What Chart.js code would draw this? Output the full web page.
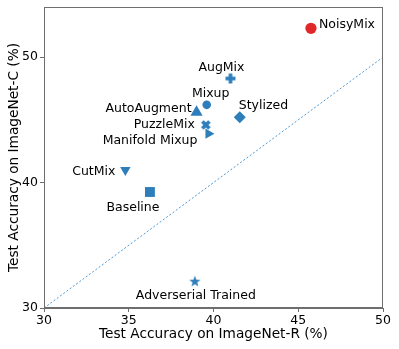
<!DOCTYPE html>
<html>
<head>
<meta charset="utf-8">
<script src="https://cdn.jsdelivr.net/npm/chart.js@4/dist/chart.umd.min.js"></script>
<style>
  html, body { margin: 0; padding: 0; background: #fff; }
  canvas { display: block; }
</style>
</head>
<body>
<canvas id="chart" width="399" height="349"></canvas>
<script>
// data
var methods = ['Baseline', 'AutoAugment', 'AugMix', 'Stylized', 'Mixup',
    'Manifold Mixup', 'CutMix', 'PuzzleMix', 'Adverserial Trained', 'NoisyMix'];
var accR = [36.25, 39.0, 41.0, 41.55, 39.6, 39.7, 34.8, 39.55, 38.9, 45.75];
var accC = [39.25, 45.6, 48.3, 45.2, 46.2, 43.9, 41.0, 44.6, 32.1, 52.3];
var xTicks = [30, 35, 40, 45, 50];
var yTicks = [30, 40, 50];

var BLUE = '#2e7ebc';
var RED = '#e0282a';
var FONT = '"DejaVu Sans", sans-serif';

function makeMarker(size, draw) {
    var c = document.createElement('canvas');
    c.width = size;
    c.height = size;
    var g = c.getContext('2d');
    g.fillStyle = BLUE;
    g.translate(size / 2, size / 2);
    draw(g);
    return c;
}

function plus(g) {
    g.fillRect(-5, -1.8, 10, 3.6);
    g.fillRect(-1.8, -5, 3.6, 10);
}

var plusMarker = makeMarker(12, plus);
var xMarker = makeMarker(12, function (g) { g.rotate(Math.PI / 4); plus(g); });
var starMarker = makeMarker(14, function (g) {
    g.beginPath();
    for (var i = 0; i < 10; i++) {
        var r = i % 2 ? 2.4 : 6;
        var a = -Math.PI / 2 + i * Math.PI / 5;
        g.lineTo(r * Math.cos(a), r * Math.sin(a));
    }
    g.closePath();
    g.fill();
});

// marker style per method (same order as methods)
var styles = ['rect', 'triangle', plusMarker, 'rectRot', 'circle',
    'triangle', 'triangle', xMarker, starMarker, 'circle'];
var rotations = [0, 0, 0, 0, 0, 90, 180, 0, 0, 0];
var radii = [7, 7, 6, 6, 4.3, 6, 6, 6, 7, 5.6];
var colors = methods.map(function (m) { return m === 'NoisyMix' ? RED : BLUE; });

// label offsets in px from the marker: [dx, dy, align]
var labelPos = [
    [-17, 16, 'center'], [-5, -4, 'right'], [-9, -11, 'center'], [-1, -12, 'left'],
    [4, -11, 'center'], [-11, 7, 'right'], [-10, 2, 'right'], [-11, 0, 'right'],
    [1, 14, 'center'], [8, -4, 'left']
];

var framePlugin = {
    id: 'frame',
    afterDraw: function (chart) {
        var a = chart.chartArea, ctx = chart.ctx;
        ctx.save();
        ctx.strokeStyle = '#6e6e6e';
        ctx.lineWidth = 1;
        ctx.strokeRect(a.left + 0.5, a.top + 0.5, a.right - a.left - 1, a.bottom - a.top - 1);
        ctx.restore();
    }
};

var labelPlugin = {
    id: 'pointLabels',
    afterDatasetsDraw: function (chart) {
        var meta = chart.getDatasetMeta(1);
        var ctx = chart.ctx;
        ctx.save();
        ctx.font = '12.5px ' + FONT;
        ctx.fillStyle = '#000';
        ctx.textBaseline = 'middle';
        meta.data.forEach(function (pt, i) {
            var p = labelPos[i];
            ctx.textAlign = p[2];
            ctx.fillText(methods[i], pt.x + p[0], pt.y + p[1]);
        });
        ctx.restore();
    }
};

var points = methods.map(function (m, i) { return { x: accR[i], y: accC[i] }; });

new Chart(document.getElementById('chart').getContext('2d'), {
    type: 'scatter',
    data: {
        datasets: [{
            type: 'line',
            data: [{ x: 30, y: 30 }, { x: 50, y: 50 }],
            borderColor: '#4a97d6',
            borderWidth: 1,
            borderDash: [2, 2],
            pointRadius: 0,
            fill: false
        }, {
            data: points,
            pointStyle: styles,
            rotation: rotations,
            pointRadius: radii,
            backgroundColor: colors,
            borderColor: colors,
            borderWidth: 0
        }]
    },
    options: {
        responsive: false,
        animation: false,
        layout: { padding: { top: 7, right: 16, left: 0, bottom: 0 } },
        plugins: { legend: { display: false }, tooltip: { enabled: false } },
        scales: {
            x: {
                type: 'linear', min: 30, max: 50,
                afterBuildTicks: function (s) { s.ticks = xTicks.map(function (v) { return { value: v }; }); },
                afterFit: function (s) { s.height = 41; },
                grid: { display: true, drawOnChartArea: false, tickLength: 4, color: '#6e6e6e' },
                border: { color: '#6e6e6e' },
                ticks: { color: '#000', font: { family: FONT, size: 12.5 }, padding: 1, maxRotation: 0 },
                title: { display: true, text: 'Test Accuracy on ImageNet-R (%)', color: '#000',
                    font: { family: FONT, size: 13.7 }, padding: { top: 0, bottom: 6 } }
            },
            y: {
                type: 'linear', min: 30, max: 54,
                afterBuildTicks: function (s) { s.ticks = yTicks.map(function (v) { return { value: v }; }); },
                afterFit: function (s) { s.width = 44; s.paddingTop = 0; },
                grid: { display: true, drawOnChartArea: false, tickLength: 4, color: '#6e6e6e' },
                border: { color: '#6e6e6e' },
                ticks: { color: '#000', font: { family: FONT, size: 12.5 }, padding: 2 },
                title: { display: true, text: 'Test Accuracy on ImageNet-C (%)', color: '#000',
                    font: { family: FONT, size: 13.7 }, padding: { top: 6, bottom: 0 } }
            }
        }
    },
    plugins: [framePlugin, labelPlugin]
});
</script>
</body>
</html>
